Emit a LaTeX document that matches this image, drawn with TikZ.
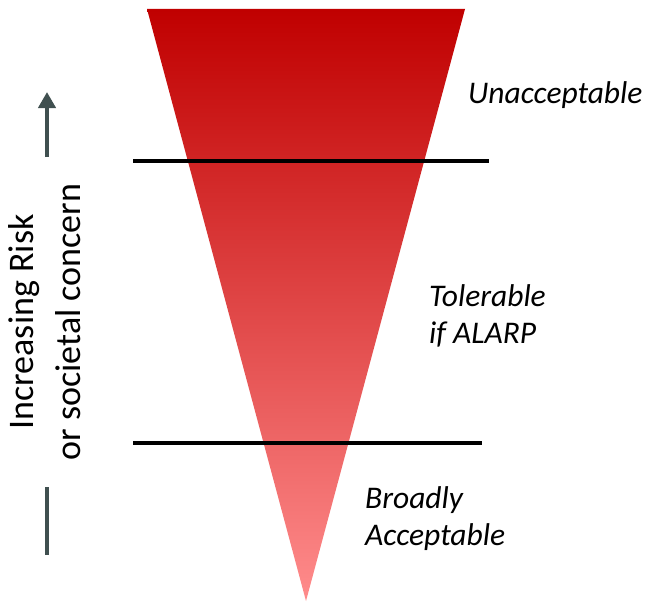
\documentclass[tikz,border=0pt]{standalone}
\usepackage{fontspec}
\setmainfont{Carlito}
\usetikzlibrary{arrows.meta}
\definecolor{topred}{RGB}{192,0,0}
\definecolor{botred}{RGB}{255,140,140}
\definecolor{arrowgray}{RGB}{64,80,80}
\tikzset{
  zoneline/.style={line width=3.2pt, black},
  zonelabel/.style={font=\fontsize{31.5}{37}\selectfont\itshape, align=left, anchor=base west, inner sep=0pt},
  sidelabel/.style={font=\fontsize{36}{47}\selectfont, align=center, rotate=90, anchor=base, inner sep=0pt},
  riskarrow/.style={line width=4.5pt, arrowgray}
}
\begin{document}
\begin{tikzpicture}[x=1pt,y=-1pt]
\useasboundingbox (0,0) rectangle (645,602);
% funnel
\shade[top color=topred, bottom color=botred, shading angle=0] (147,9) -- (465,9) -- (306,601) -- cycle;
\coordinate (l1a) at (133,161); \coordinate (l1b) at (489,161);
\coordinate (l2a) at (133,443); \coordinate (l2b) at (482,443);
\draw[zoneline] (l1a) -- (l1b);
\draw[zoneline] (l2a) -- (l2b);
\node[zonelabel] (unacc) at (468,103) {Unacceptable};
\node[zonelabel] (toler) at (429,343) {Tolerable\\if ALARP};
\node[zonelabel] (broad) at (365,545) {Broadly\\Acceptable};
\node[sidelabel] (side) at (80,322) {Increasing Risk\\or societal concern};
\coordinate (a1) at (47,157); \coordinate (a2) at (47,92);
\coordinate (b1) at (47,487); \coordinate (b2) at (47,555);
\draw[riskarrow, -{Triangle[length=16pt,width=17pt]}] (a1) -- (a2);
\draw[riskarrow] (b1) -- (b2);
\end{tikzpicture}
\end{document}
